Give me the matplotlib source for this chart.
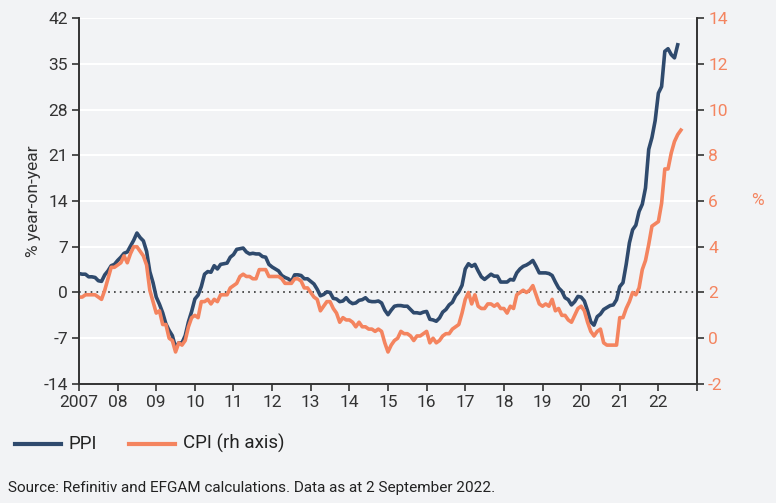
import numpy as np
import matplotlib.pyplot as plt

# monthly y/y, Jan 2007 onwards
ppi = [2.9, 2.8, 2.8, 2.4, 2.4, 2.3, 1.8, 1.7, 2.7, 3.3, 4.1, 4.3,
       4.9, 5.4, 6.0, 6.2, 7.1, 8.0, 9.1, 8.4, 7.9, 6.3, 3.2, 1.5,
       -0.7, -1.8, -3.1, -4.8, -5.8, -6.6, -8.4, -7.7, -7.7, -6.6, -4.5, -2.9,
       -1.0, -0.4, 0.9, 2.8, 3.2, 3.1, 4.1, 3.6, 4.3, 4.4, 4.5, 5.4,
       5.8, 6.6, 6.7, 6.8, 6.2, 5.9, 6.0, 5.9, 5.9, 5.5, 5.4, 4.3,
       3.9, 3.6, 3.3, 2.6, 2.3, 2.1, 1.7, 2.7, 2.7, 2.6, 2.1, 2.1,
       1.7, 1.3, 0.5, -0.5, -0.3, 0.1, 0.0, -0.9, -1.0, -1.4, -1.3, -0.8,
       -1.4, -1.7, -1.6, -1.2, -1.1, -0.8, -1.3, -1.4, -1.4, -1.3, -1.6, -2.7,
       -3.4, -2.7, -2.1, -2.0, -2.0, -2.1, -2.1, -2.6, -3.1, -3.1, -3.2, -3.0,
       -2.9, -4.1, -4.2, -4.4, -3.9, -3.0, -2.6, -1.9, -1.5, -0.5, 0.1, 1.1,
       3.6, 4.4, 4.0, 4.3, 3.3, 2.4, 2.0, 2.4, 2.8, 2.5, 2.5, 1.6,
       1.6, 1.6, 2.0, 1.9, 3.0, 3.6, 4.0, 4.2, 4.5, 4.9, 4.0, 3.0,
       3.0, 3.0, 2.9, 2.6, 1.6, 0.7, 0.2, -0.8, -1.1, -1.9, -1.4, -0.6,
       -0.7, -1.3, -2.8, -4.5, -5.0, -3.7, -3.3, -2.6, -2.3, -2.0, -1.9, -1.1,
       0.9, 1.5, 4.3, 7.6, 9.6, 10.3, 12.4, 13.5, 16.0, 21.9, 23.7, 26.3,
       30.5, 31.5, 36.9, 37.3, 36.4, 35.9, 37.9]

cpi = [1.8, 1.8, 1.9, 1.9, 1.9, 1.9, 1.8, 1.7, 2.1, 2.6, 3.1, 3.1,
       3.2, 3.3, 3.6, 3.3, 3.7, 4.0, 4.0, 3.8, 3.6, 3.2, 2.1, 1.6,
       1.1, 1.2, 0.6, 0.6, 0.0, -0.1, -0.6, -0.2, -0.3, -0.1, 0.5, 0.9,
       1.0, 0.9, 1.6, 1.6, 1.7, 1.5, 1.7, 1.6, 1.9, 1.9, 1.9, 2.2,
       2.3, 2.4, 2.7, 2.8, 2.7, 2.7, 2.6, 2.6, 3.0, 3.0, 3.0, 2.7,
       2.7, 2.7, 2.7, 2.6, 2.4, 2.4, 2.4, 2.6, 2.6, 2.5, 2.2, 2.2,
       2.0, 1.8, 1.7, 1.2, 1.4, 1.6, 1.6, 1.3, 1.1, 0.7, 0.9, 0.8,
       0.8, 0.7, 0.5, 0.7, 0.5, 0.5, 0.4, 0.4, 0.3, 0.4, 0.3, -0.2,
       -0.6, -0.3, -0.1, 0.0, 0.3, 0.2, 0.2, 0.1, -0.1, 0.1, 0.1, 0.2,
       0.3, -0.2, 0.0, -0.2, -0.1, 0.1, 0.2, 0.2, 0.4, 0.5, 0.6, 1.1,
       1.7, 2.0, 1.5, 1.9, 1.4, 1.3, 1.3, 1.5, 1.5, 1.4, 1.5, 1.3,
       1.3, 1.1, 1.4, 1.3, 1.9, 2.0, 2.1, 2.0, 2.1, 2.3, 1.9, 1.5,
       1.4, 1.5, 1.4, 1.7, 1.2, 1.3, 1.0, 1.0, 0.8, 0.7, 1.0, 1.3,
       1.4, 1.2, 0.7, 0.3, 0.1, 0.3, 0.4, -0.2, -0.3, -0.3, -0.3, -0.3,
       0.9, 0.9, 1.3, 1.6, 2.0, 1.9, 2.2, 3.0, 3.4, 4.1, 4.9, 5.0,
       5.1, 5.9, 7.4, 7.4, 8.1, 8.6, 8.9, 9.1]

year_ticks = list(range(2007, 2024))
year_labels = ["2007"] + ["%02d" % (y % 100) for y in range(2008, 2023)] + [""]

navy = "#2f4a6d"
salmon = "#f4845f"
bg = "#f2f3f5"
plt.rcParams["font.family"] = ["Roboto", "DejaVu Sans"]
plt.rcParams["axes.unicode_minus"] = False

x_ppi = 2007 + np.arange(len(ppi)) / 12
x_cpi = 2007 + np.arange(len(cpi)) / 12

fig = plt.figure(figsize=(7.76, 5.03), dpi=100, facecolor=bg)
ax = fig.add_axes([0.1018, 0.2366, 0.7964, 0.7276], facecolor=bg)
ax2 = ax.twinx()

for y in range(-14, 43, 7):
    if y != 0:
        ax.axhline(y, color="white", lw=1.5, zorder=0)
ax.axhline(0, color="#333333", lw=1.2, ls=(0, (1, 2.5)), zorder=1)

ax.plot(x_ppi, ppi, color=navy, lw=2.6, zorder=3)
ax2.plot(x_cpi, cpi, color=salmon, lw=2.6, zorder=2)

ax.set_xlim(2007, 2023)
ax.set_ylim(-14, 42)
ax2.set_ylim(-2, 14)
ax.set_yticks(range(-14, 43, 7))
ax2.set_yticks(range(-2, 15, 2))
ax.set_xticks(year_ticks)
ax.set_xticklabels(year_labels)

for a in (ax, ax2):
    a.spines["top"].set_visible(False)
    for s in ("left", "right", "bottom"):
        a.spines[s].set_color("#333333")
        a.spines[s].set_linewidth(1.2)
ax.tick_params(axis="both", colors="#333333", labelsize=12.5, length=5, width=1.2, pad=3)
ax2.tick_params(axis="y", colors="#333333", labelcolor=salmon, labelsize=12.5, length=5, width=1.2, pad=3)

ax.set_ylabel("% year-on-year", fontsize=12.5, color="#333333", labelpad=2)
fig.text(0.976, 0.602, "%", color=salmon, fontsize=12.5, ha="center", va="center")

# legend
fig.add_artist(plt.Line2D([0.019, 0.078], [0.118, 0.118], color=navy, lw=3))
fig.text(0.088, 0.118, "PPI", fontsize=13.5, color="#222222", va="center")
fig.add_artist(plt.Line2D([0.166, 0.226], [0.118, 0.118], color=salmon, lw=3))
fig.text(0.236, 0.118, "CPI (rh axis)", fontsize=13.5, color="#222222", va="center")

fig.text(0.01, 0.03, "Source: Refinitiv and EFGAM calculations. Data as at 2 September 2022.",
         fontsize=11, color="#222222", va="center")

fig.savefig("out.png", dpi=100, facecolor=bg)
